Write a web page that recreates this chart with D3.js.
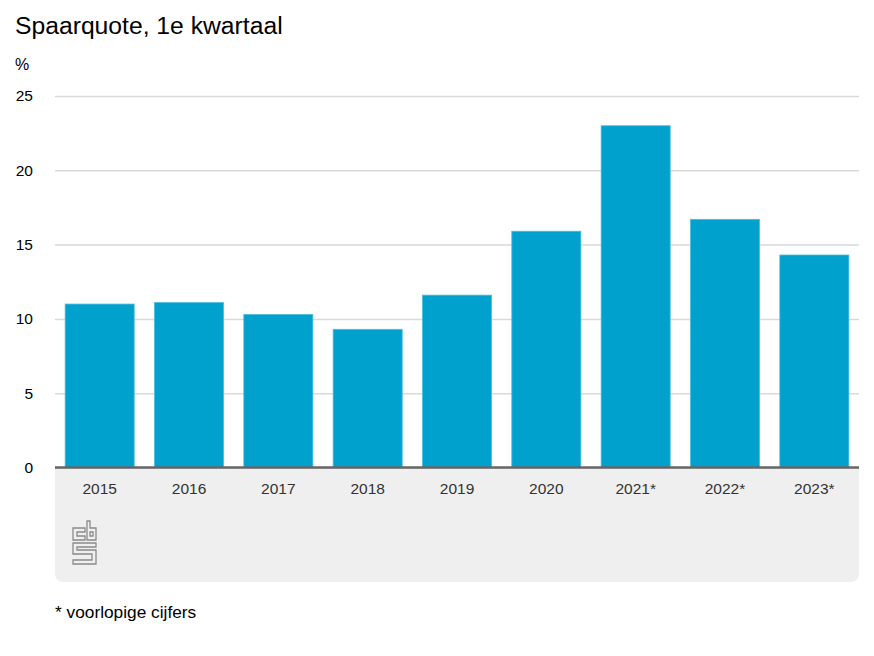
<!DOCTYPE html>
<html>
<head>
<meta charset="utf-8">
<script src="https://cdn.jsdelivr.net/npm/d3@7"></script>
<style>
  body { margin: 0; background: #fff; }
  text { font-family: "Liberation Sans", Arial, sans-serif; }
</style>
</head>
<body>
<div id="chart"></div>
<script>
var years = ["2015", "2016", "2017", "2018", "2019", "2020", "2021*", "2022*", "2023*"];
var spaarquote = [11.0, 11.1, 10.3, 9.3, 11.6, 15.9, 23.0, 16.7, 14.3];
var yTicks = [0, 5, 10, 15, 20, 25];

var width = 874;
var height = 656;
var plotLeft = 55, plotRight = 859;
var plotTop = 96, plotBottom = 467.5;

var dataset = years.map(function(y, i) {
    return { id: y, value: spaarquote[i] };
});

var svg = d3.select("#chart").append("svg")
    .attr("width", width)
    .attr("height", height);

var xScale = d3.scaleBand()
    .domain(years)
    .range([plotLeft, plotRight])
    .paddingInner(0.227)
    .paddingOuter(0.1135);

var yScale = d3.scaleLinear()
    .domain([0, 25])
    .range([plotBottom, plotTop]);

// grijs vlak onder de as
svg.append("path")
    .attr("d", "M" + plotLeft + "," + plotBottom + "H" + plotRight + "V574a8,8 0 0 1 -8,8H" + (plotLeft + 8) + "a8,8 0 0 1 -8,-8Z")
    .attr("fill", "#efefef");

// titel
svg.append("text")
    .attr("x", 15).attr("y", 34)
    .attr("font-size", "24.7px")
    .attr("fill", "#000")
    .text("Spaarquote, 1e kwartaal");

svg.append("text")
    .attr("x", 15).attr("y", 70)
    .attr("font-size", "16px")
    .attr("fill", "#000")
    .text("%");

// rasterlijnen
var yAxis = d3.axisLeft(yScale)
    .tickValues(yTicks)
    .tickSize(-(plotRight - plotLeft))
    .tickPadding(22);

var yG = svg.append("g")
    .attr("transform", "translate(" + plotLeft + ",0)")
    .call(yAxis);
yG.select(".domain").remove();
yG.selectAll(".tick line")
    .attr("stroke", "#d9d9d9")
    .attr("stroke-width", 1.5);
yG.selectAll(".tick text")
    .attr("font-size", "15.5px")
    .attr("fill", "#000")
    .attr("font-family", "Liberation Sans, Arial, sans-serif");

// staven
svg.selectAll("rect.bar")
    .data(dataset)
    .enter()
    .append("rect")
    .classed("bar", true)
    .attr("x", function(d) { return xScale(d.id); })
    .attr("y", function(d) { return yScale(d.value); })
    .attr("width", xScale.bandwidth())
    .attr("height", function(d) { return plotBottom - yScale(d.value); })
    .attr("fill", "#00a1cd")
    .attr("stroke", "#4cbde0")
    .attr("stroke-width", 0.8);

// x-as
var xAxis = d3.axisBottom(xScale).tickSize(0).tickPadding(15);
var xG = svg.append("g")
    .attr("transform", "translate(0," + plotBottom + ")")
    .call(xAxis);
xG.select(".domain")
    .attr("stroke", "#666")
    .attr("stroke-width", 2.5)
    .attr("d", "M" + plotLeft + ",0H" + plotRight);
xG.selectAll(".tick text")
    .attr("font-size", "15.5px")
    .attr("fill", "#333")
    .attr("font-family", "Liberation Sans, Arial, sans-serif");

// cbs logo
var logo = svg.append("g")
    .attr("transform", "translate(73,521)")
    .attr("fill", "none")
    .attr("stroke", "#8a8a8a")
    .attr("stroke-width", 1.3);
// c
logo.append("path").attr("d", "M12,7H0V19H12V15H4V11H12Z");
// b
logo.append("path").attr("d", "M14,0H17V7H23V19H14Z");
logo.append("path").attr("d", "M17,11H20V15H17Z");
// S
logo.append("path").attr("d", "M0,22H23V26H4V29H23V43H0V39H19V33H0Z");

// voetnoot
svg.append("text")
    .attr("x", 55).attr("y", 618)
    .attr("font-size", "17.3px")
    .attr("fill", "#000")
    .text("* voorlopige cijfers");
</script>
</body>
</html>
